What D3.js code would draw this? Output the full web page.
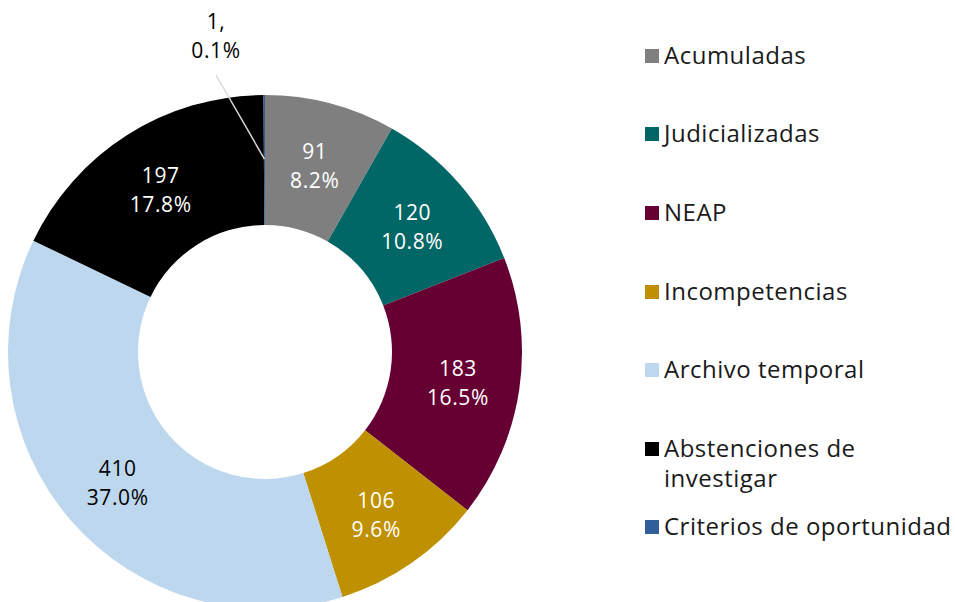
<!DOCTYPE html>
<html>
<head>
<meta charset="utf-8">
<script src="https://cdn.jsdelivr.net/npm/d3@7"></script>
<style>
  body { margin: 0; background: #fff; }
  svg { display: block; font-family: "Open Sans", "Lato", sans-serif; }
</style>
</head>
<body>
<div id="chart"></div>
<script>
// data
var categories = ["Acumuladas", "Judicializadas", "NEAP", "Incompetencias", "Archivo temporal", "Abstenciones de investigar", "Criterios de oportunidad"];
var values = [91, 120, 183, 106, 410, 197, 1];
var percents = ["8.2%", "10.8%", "16.5%", "9.6%", "37.0%", "17.8%", "0.1%"];
var colors = ["#7f7f7f", "#006666", "#660033", "#bf9000", "#bdd7ee", "#000000", "#2e5f99"];
var legendLines = [["Acumuladas"], ["Judicializadas"], ["NEAP"], ["Incompetencias"], ["Archivo temporal"], ["Abstenciones de", "investigar"], ["Criterios de oportunidad"]];

var width = 955, height = 602,
    cx = 265, cy = 352, outerR = 257, innerR = 127;

var svg = d3.select("#chart").append("svg")
    .attr("width", width)
    .attr("height", height);

var data = categories.map(function (c, i) {
  return { key: c, value: values[i], pct: percents[i], color: colors[i] };
});

var pie = d3.pie().sort(null).value(function (d) { return d.value; });
var arc = d3.arc().innerRadius(innerR).outerRadius(outerR);
var labelArc = d3.arc().innerRadius((innerR + outerR) / 2 + 3).outerRadius((innerR + outerR) / 2 + 3);

var g = svg.append("g").attr("transform", "translate(" + cx + "," + cy + ")");
var arcs = pie(data);

g.selectAll("path.slice").data(arcs).enter().append("path")
    .attr("class", "slice")
    .attr("d", arc)
    .attr("fill", function (d) { return d.data.color; });

// labels inside slices
var lab = g.selectAll("text.lab").data(arcs.filter(function (d) { return d.data.value > 5; }))
  .enter().append("text")
    .attr("class", "lab")
    .attr("text-anchor", "middle")
    .attr("font-size", "21px")
    .attr("letter-spacing", "0.6px")
    .attr("fill", function (d) { return d.data.color === "#bdd7ee" ? "#000" : "#fff"; })
    .attr("transform", function (d) {
      var c = labelArc.centroid(d);
      return "translate(" + c[0] + "," + c[1] + ")";
    });
lab.append("tspan").attr("x", 0).attr("y", -4).text(function (d) { return d.data.value; });
lab.append("tspan").attr("x", 0).attr("y", 25).text(function (d) { return d.data.pct; });

// small slice label with leader line
var small = arcs[arcs.length - 1];
var p0 = d3.arc().innerRadius(outerR - 64).outerRadius(outerR - 64).centroid(small);
var lx = -49, ly = -277;
g.append("line")
    .attr("x1", p0[0]).attr("y1", p0[1])
    .attr("x2", lx).attr("y2", ly)
    .attr("stroke", "#d9d9d9").attr("stroke-width", 1.5);
var st = g.append("text")
    .attr("text-anchor", "middle")
    .attr("font-size", "21px")
    .attr("letter-spacing", "0.6px")
    .attr("fill", "#000");
st.append("tspan").attr("x", lx).attr("y", ly - 46).text(small.data.value + ",");
st.append("tspan").attr("x", lx).attr("y", ly - 17).text(small.data.pct);

// legend
var legend = svg.append("g").attr("transform", "translate(645,0)");
var rowY = [56, 134, 213, 292, 370, 449, 527];
var item = legend.selectAll("g.item").data(data).enter().append("g")
    .attr("class", "item")
    .attr("transform", function (d, i) { return "translate(0," + rowY[i] + ")"; });
item.append("rect")
    .attr("x", 0).attr("y", -7)
    .attr("width", 14).attr("height", 14)
    .attr("fill", function (d) { return d.color; });
item.each(function (d, i) {
  var t = d3.select(this).append("text")
      .attr("font-size", "24px")
      .attr("letter-spacing", "0.5px")
      .attr("fill", "#1a1a1a");
  legendLines[i].forEach(function (ln, k) {
    t.append("tspan").attr("x", 19).attr("y", 8 + k * 30).text(ln);
  });
});
</script>
</body>
</html>
